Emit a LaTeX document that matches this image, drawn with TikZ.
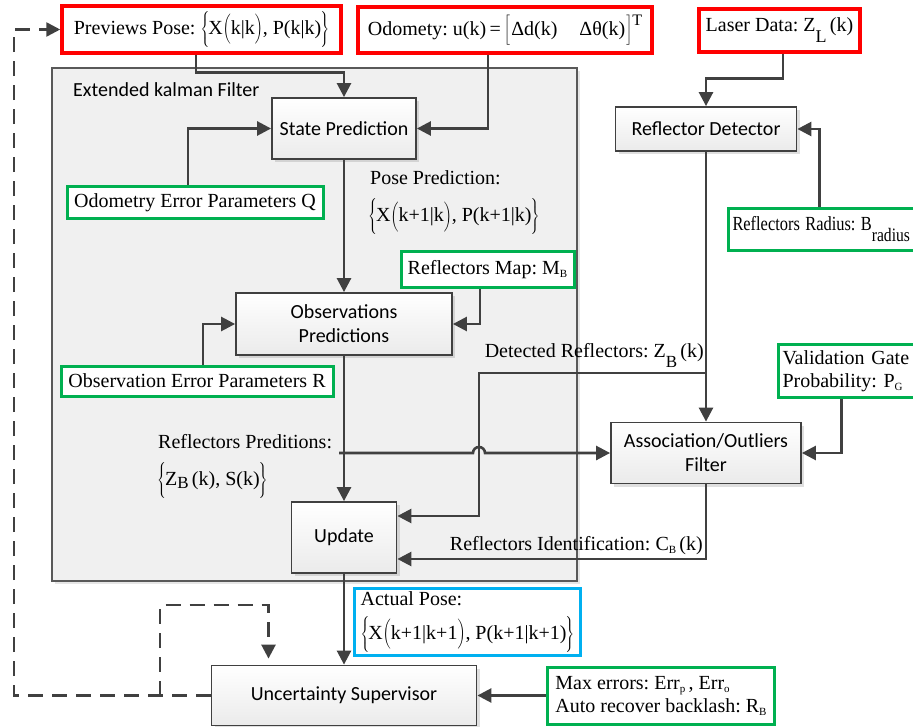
\RequirePackage{fix-cm}
\documentclass[tikz,border=0pt]{standalone}
\usepackage{fontspec}
\setmainfont{Liberation Serif}
\setsansfont{Carlito}
\usepackage{graphicx}
\usetikzlibrary{arrows.meta,shadows,calc}
\frenchspacing
\definecolor{dg}{HTML}{404040}
\definecolor{grn}{HTML}{00B050}
\definecolor{cyn}{HTML}{00B0F0}
\definecolor{redc}{HTML}{FF0000}
\definecolor{ekfbg}{HTML}{F0F0F0}
\definecolor{ekfln}{HTML}{595959}
\newcommand{\serifsz}{\rmfamily\fontsize{20}{23}\selectfont}
\newcommand{\sanssz}{\sffamily\fontsize{20}{24}\selectfont}
\newcommand{\bstrut}{\rule[-12pt]{0pt}{35pt}}
\newcommand{\pstrut}{\rule[-8pt]{0pt}{27pt}}
\newcommand{\mybset}[1]{$\left\{\bstrut\right.\mkern-2mu$#1$\mkern-2mu\left.\bstrut\right\}$}
\newcommand{\mybp}[1]{$\left(\pstrut\right.\mkern-1mu$#1$\mkern-1mu\left.\pstrut\right)$}
\newcommand{\smallsub}[1]{\raisebox{-3pt}{\fontsize{11}{11}\selectfont #1}}
\newcommand{\bigsub}[1]{\raisebox{-10pt}{\fontsize{17}{17}\selectfont #1}}
\begin{document}
\begin{tikzpicture}[x=1pt,y=-1pt,
  proc/.style={draw=dg, line width=1.8pt, top color=white, bottom color=gray!16,
    drop shadow={shadow xshift=3pt,shadow yshift=-3pt,opacity=0.25,fill=black!50},
    font=\sanssz, align=center, inner sep=0pt},
  ekfbox/.style={draw=ekfln, line width=1.4pt, fill=ekfbg,
    drop shadow={shadow xshift=3pt,shadow yshift=-3pt,opacity=0.2,fill=black!50}, inner sep=0pt},
  redbox/.style={draw=redc, line width=3.5pt, fill=white, font=\serifsz, inner sep=0pt},
  grnbox/.style={draw=grn, line width=3pt, fill=white, font=\serifsz, inner sep=0pt},
  cynbox/.style={draw=cyn, line width=3pt, fill=white, font=\serifsz, inner sep=0pt},
  lbl/.style={font=\serifsz, inner sep=0pt},
  arr/.style={draw=dg, line width=2.6pt, -{Triangle[length=14pt,width=14pt]}},
  dashl/.style={arr, dash pattern=on 15pt off 9pt}]
\useasboundingbox (0,0) rectangle (913,727);

% EKF container
\node[ekfbox, minimum width=525, minimum height=513] (ekf) at (314.5,324.5) {};
\node[anchor=base west, font=\sanssz, inner sep=0pt] (ekfl) at (73,97) {Extended kalman Filter};

% process boxes
\node[proc, minimum width=144, minimum height=61] (sp) at (344,128.5) {State Prediction};
\node[proc, minimum width=216, minimum height=62] (op) at (344,324) {Observations\\Predictions};
\node[proc, minimum width=105, minimum height=71] (up) at (344,537.5) {Update};
\node[proc, minimum width=181, minimum height=44] (rd) at (706,129) {Reflector Detector};
\node[proc, minimum width=190, minimum height=61] (af) at (706,453) {Association/Outliers\\Filter};
\node[proc, minimum width=265, minimum height=60] (us) at (344,695.5) {Uncertainty Supervisor};

% inputs (red)
\node[redbox, minimum width=279, minimum height=47] (prev) at (201.5,29.5)
  {Previews Pose: \mybset{X\mybp{k|k}, P(k|k)}};
\node[redbox, minimum width=294, minimum height=46] (odo) at (505,30)
  {Odomety: u(k)\,=\,$\left[\pstrut\right.$Δd(k)\hspace{1.1em}Δθ(k)$\left.\pstrut\right]$\raisebox{10pt}{\fontsize{16}{16}\selectfont T}};
\node[redbox, minimum width=161, minimum height=43] (laser) at (779.5,30.5)
  {Laser Data: Z\raisebox{-11pt}{\fontsize{18}{18}\selectfont L}\,(k)};

% parameters (green)
\node[grnbox, minimum width=256, minimum height=32] (odoQ) at (195,203) {Odometry Error Parameters Q};
\node[grnbox, minimum width=173, minimum height=36] (mapB) at (487.5,270) {Reflectors Map: M\smallsub{B}};
\node[grnbox, minimum width=272, minimum height=30] (obsR) at (197,381) {Observation Error Parameters R};
\node[grnbox, anchor=north west, minimum width=208, minimum height=42, text width=200,
  inner xsep=4pt, align=left] (radius) at (727,207)
  {\scalebox{0.82}[1]{Reflectors Radius: B\raisebox{-11pt}{\fontsize{19}{19}\selectfont radius}}};
\node[grnbox, anchor=north west, minimum width=158, minimum height=53, text width=150,
  inner xsep=4pt, align=left] (vg) at (777,343) {Validation Gate\\Probability: P\smallsub{G}};
\node[grnbox, anchor=west, minimum width=227, minimum height=57,
  inner xsep=3pt, align=left] (maxe) at (546,695.5)
  {Max errors: Err\smallsub{p}\,, Err\smallsub{o}\\Auto recover backlash: R\smallsub{B}};

% output (cyan)
\node[cynbox, anchor=north west, minimum width=226, minimum height=67,
  inner xsep=4pt, inner ysep=1pt, align=left] (ap) at (353,587)
  {Actual Pose:\\[9pt]\mybset{X\mybp{k+1|k+1}, P(k+1|k+1)}};

% labels
\node[lbl, anchor=base west] (pp1) at (370,185) {Pose Prediction:};
\node[lbl, anchor=base west] (pp2) at (368,222) {\mybset{X\mybp{k+1|k}, P(k+1|k)}};
\node[lbl, anchor=base west] (rp1) at (158,448) {Reflectors Preditions:};
\node[lbl, anchor=base west] (rp2) at (157,485) {\mybset{Z\raisebox{-3pt}{\fontsize{17}{17}\selectfont B}\,(k), S(k)}};
\node[lbl, anchor=base east] (drl) at (704,357) {Detected Reflectors: Z\bigsub{B}\,(k)};
\node[lbl, anchor=base east] (ril) at (703,550) {Reflectors Identification: C\smallsub{B}\,(k)};

% connectors
\draw[arr] ([xshift=-5.5pt]prev.south) -- ++(0,18) -| (sp.north);
\draw[arr] ([xshift=-17pt]odo.south) |- (sp.east);
\draw[arr] ([xshift=-7pt]odoQ.north) |- (sp.west);
\draw[arr] (sp.south) -- (op.north);
\draw[arr] ([xshift=-7.5pt]mapB.south) |- (op.east);
\draw[arr] ([xshift=6pt]obsR.north) |- (op.west);
\draw[arr] (op.south) -- (up.north);
\draw[arr] ([xshift=3.5pt]laser.south) -- ++(0,25) -| (rd.north);
\draw[arr] ([xshift=-13pt]radius.north) |- (rd.east);
\draw[arr] (rd.south) -- (af.north);
\coordinate (dj) at (706,373);
\coordinate (dk) at (479,373);
\draw[arr] (dj) -- (dk) |- ([yshift=21.5pt]up.east);
\coordinate (rs) at (339,453);
\draw[arr] (rs) -- (473,453) arc[start angle=180,end angle=0,radius=6pt] -- (af.west |- rs);
\draw[arr] (af.south) |- ([yshift=-21.5pt]up.east);
\draw[arr] ([xshift=-16pt]vg.south) |- (af.east);
\draw[arr] (up.south) -- (us.north);
\draw[arr] (us.east -| maxe.west) -- (us.east);
\draw[dashl] (us.west) -- (14,695.5) |- (prev.west);
\coordinate (dl) at (160,695.5);
\draw[dashl, shorten >=6pt] (dl) -- (160,605) -| ([xshift=-75.5pt]us.north);
\end{tikzpicture}
\end{document}
